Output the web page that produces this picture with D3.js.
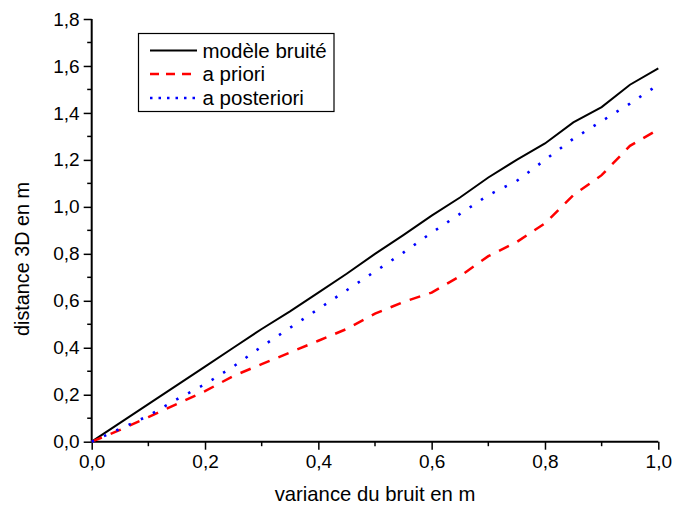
<!DOCTYPE html>
<html><head><meta charset="utf-8">
<script src="https://cdn.jsdelivr.net/npm/d3@7"></script>
<style>body{margin:0;background:#fff}svg{display:block}text{font-family:"Liberation Sans",Arial,sans-serif;fill:#000}</style>
</head><body><svg id="c" width="674" height="506"></svg>
<script>
const xValues = [0,0.05,0.1,0.15,0.2,0.25,0.3,0.35,0.4,0.45,0.5,0.55,0.6,0.65,0.7,0.75,0.8,0.85,0.9,0.95,1.0];
const modeleBruite = [0,0.08,0.16,0.24,0.32,0.40,0.48,0.555,0.635,0.715,0.80,0.88,0.963,1.04,1.125,1.20,1.27,1.36,1.425,1.52,1.59];
const aPriori = [0,0.05,0.105,0.16,0.215,0.28,0.33,0.38,0.43,0.48,0.545,0.595,0.635,0.705,0.79,0.85,0.93,1.05,1.135,1.26,1.33];
const aPosteriori = [0,0.055,0.11,0.18,0.245,0.32,0.405,0.485,0.565,0.645,0.725,0.805,0.89,0.97,1.05,1.11,1.20,1.29,1.365,1.44,1.52];
const seriesNames = ["modèle bruité","a priori","a posteriori"];
const xTicks = [0,0.2,0.4,0.6,0.8,1.0];
const yTicks = [0,0.2,0.4,0.6,0.8,1.0,1.2,1.4,1.6,1.8];
const xTitle = "variance du bruit en m";
const yTitle = "distance 3D en m";

const svg = d3.select("#c");
const x = d3.scaleLinear().domain([0,1]).range([91.7,658.3]);
const y = d3.scaleLinear().domain([0,1.8]).range([441.7,19]);
const fmt = d => d3.format(".1f")(d).replace(".",",");

const styles = [
  {color:"#000", width:2, dash:null, legDash:null},
  {color:"#ff0000", width:2.5, dash:"11,9.5", legDash:"9,7"},
  {color:"#0000ff", width:2.6, dash:"2.5,11", legDash:"2.5,6"}
];
const data = [modeleBruite,aPriori,aPosteriori];

const xMinor = d3.range(0.1,1.0,0.2);
const yMinor = d3.range(0.1,1.8,0.2);
const g = svg.append("g");
g.selectAll(".xm").data(xMinor).enter().append("line")
  .attr("x1",d=>x(d)).attr("x2",d=>x(d)).attr("y1",y(0)).attr("y2",y(0)+4.5)
  .attr("stroke","#000").attr("stroke-width",1.5);
g.selectAll(".ym").data(yMinor).enter().append("line")
  .attr("y1",d=>y(d)).attr("y2",d=>y(d)).attr("x1",x(0)).attr("x2",x(0)-4.5)
  .attr("stroke","#000").attr("stroke-width",1.5);

const xAxis = svg.append("g").attr("transform",`translate(0,${y(0)})`)
  .call(d3.axisBottom(x).tickValues(xTicks).tickFormat(fmt).tickSize(8).tickPadding(5));
const yAxis = svg.append("g").attr("transform",`translate(${x(0)},0)`)
  .call(d3.axisLeft(y).tickValues(yTicks).tickFormat(fmt).tickSize(8).tickPadding(4));
[xAxis,yAxis].forEach(a=>{
  a.select(".domain").attr("stroke","#000").attr("stroke-width",2);
  a.selectAll(".tick line").attr("stroke","#000").attr("stroke-width",1.5);
  a.selectAll("text").attr("font-size",19).attr("font-family","Liberation Sans, Arial, sans-serif").attr("fill","#000");
});
xAxis.select(".domain").attr("d",`M${x(0)},0H${x(1)}`);
yAxis.select(".domain").attr("d",`M0,${y(0)}V${y(1.8)}`);

const line = d3.line().x((d,i)=>x(xValues[i])).y(d=>y(d));
data.forEach((s,k)=>{
  svg.append("path").datum(s).attr("d",line).attr("fill","none")
    .attr("stroke",styles[k].color).attr("stroke-width",styles[k].width)
    .attr("stroke-dasharray",styles[k].dash);
});

svg.append("text").attr("x",(x(0)+x(1))/2).attr("y",501).attr("text-anchor","middle")
  .attr("font-size",20.3).text(xTitle);
svg.append("text").attr("transform",`translate(29,259) rotate(-90)`).attr("text-anchor","middle")
  .attr("font-size",19.8).text(yTitle);

const leg = svg.append("g");
leg.append("rect").attr("x",138.5).attr("y",33.5).attr("width",195.5).attr("height",78)
  .attr("fill","#fff").attr("stroke","#000").attr("stroke-width",1.2);
const legY = [50.5,74,98];
seriesNames.forEach((n,k)=>{
  leg.append("line").attr("x1",150).attr("x2",197).attr("y1",legY[k]).attr("y2",legY[k])
    .attr("stroke",styles[k].color).attr("stroke-width",styles[k].width).attr("stroke-dasharray",styles[k].legDash);
  leg.append("text").attr("x",202.5).attr("y",legY[k]+7).attr("font-size",20.5).text(n);
});
</script></body></html>
